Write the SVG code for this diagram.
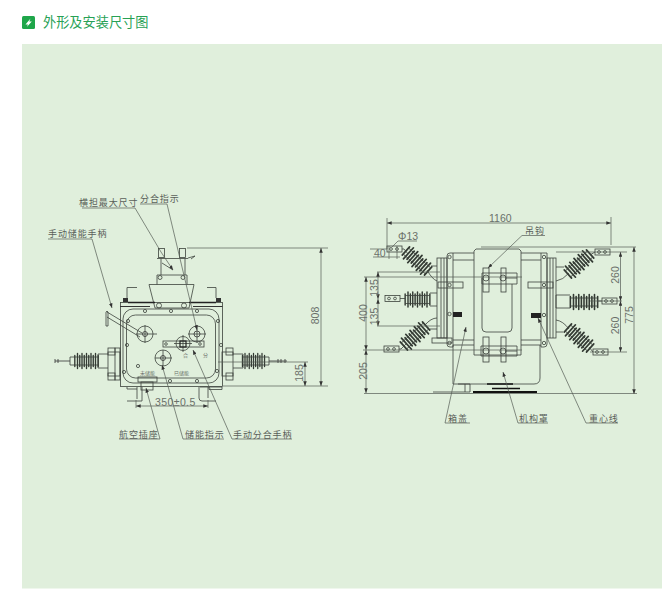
<svg xmlns="http://www.w3.org/2000/svg" width="668" height="590" viewBox="0 0 668 590">
<style>
.l{fill:none;stroke:#3c423c;stroke-width:.8}
.d{fill:none;stroke:#555b55;stroke-width:.7}
.h{fill:none;stroke:#333;stroke-width:.8}
.t{font-family:"Noto Sans CJK SC","Liberation Sans",sans-serif;font-size:9px;fill:#5a5f5a;letter-spacing:.9px}
.s{font-family:"Noto Sans CJK SC","Liberation Sans",sans-serif;font-size:5px;fill:#6a706a}
.n{font-family:"Liberation Sans",sans-serif;font-size:10.5px;fill:#6a706a}
.ins{fill:none;stroke:#333a33;stroke-width:1.500;stroke-linecap:round}
</style>
<defs>
<marker id="ar" viewBox="0 0 8 6" refX="8" refY="3" markerWidth="7" markerHeight="5" orient="auto-start-reverse"><path d="M0 0L8 3L0 6z" fill="#333"/></marker>
<g id="fin">
<path class="ins" d="M-13 -5.500V5.500M-10 -7.500V7.500M-7.500 -5.500V5.500M-5 -7.500V7.500M-2.500 -5.500V5.500M0 -7.500V7.500M2.500 -5.500V5.500M5 -7.500V7.500M7.500 -5.500V5.500M10 -7.500V7.500M13 -5.500V5.500"/>
<path class="l" d="M-13 -4H13M-13 4H13"/>
</g>
<g id="lug">
<rect class="l" x="0" y="-3" width="15" height="6"/>
<circle class="l" cx="4" cy="0" r="1.400"/><circle class="l" cx="10" cy="0" r="1.400"/>
</g>
<circle id="dot" class="l" r="1.600"/>
</defs>
<rect width="668" height="590" fill="#fff"/>
<rect x="22" y="44" width="640" height="544.500" fill="#e0efdc"/>
<g id="title">
<rect x="22" y="16" width="13" height="13" rx="1.500" fill="#1fa64a"/>
<path d="M30.500 18.500L25.500 24.500H28L26.800 27L31.800 21.500H29.300z" fill="#fff"/>
<text x="43" y="27" font-family="'Noto Sans CJK SC',sans-serif" font-size="13.200" fill="#27a155">外形及安装尺寸图</text>
</g>

<g id="front-view">
<rect class="l" x="120.500" y="302.500" width="102" height="84"/>
<path d="M120 306.500H150M193 306.500H222.500" stroke="#333" stroke-width="1"/>
<rect class="l" x="123" y="309" width="96" height="74" rx="10"/>
<rect class="l" x="126.500" y="315" width="89" height="63" rx="9"/>
<path class="l" d="M149 284.500H194L189 308H155ZM157 284.500V275H187V284.500"/>
<path class="l" d="M157 258.500H188M161 258.500V275M185 258.500V275M162 263L173 270"/>
<path class="l" d="M188 258L195 256L191 259"/>
<rect class="l" x="158.500" y="248.500" width="6" height="9"/><rect class="l" x="179.500" y="248.500" width="6" height="9"/>
<circle class="l" cx="160" cy="277.500" r="2"/><circle class="l" cx="183" cy="277.500" r="2"/>
<circle class="l" cx="159" cy="305.500" r="2.500"/><circle class="l" cx="184" cy="305.500" r="2.500"/>
<path class="l" d="M127 298V287.500H137M207 287.500H216V298"/>
<rect x="123" y="298" width="5" height="4" fill="#333"/><rect x="216" y="298" width="5" height="4" fill="#333"/>
<path d="M128 302.500H155M189 302.500H216" stroke="#222" stroke-width="1.400"/>
<g>
<use href="#dot" x="145" y="311"/><use href="#dot" x="171" y="311"/><use href="#dot" x="197" y="311"/>
<use href="#dot" x="128" y="321"/><use href="#dot" x="218" y="321"/><use href="#dot" x="127" y="345"/><use href="#dot" x="221" y="345"/>
<use href="#dot" x="124" y="372"/><use href="#dot" x="217" y="371"/><use href="#dot" x="170" y="381"/><use href="#dot" x="197" y="381"/><use href="#dot" x="138" y="366"/>
</g>
<circle class="l" cx="145" cy="334" r="8"/><path class="l" d="M136 334H157M145 325V343"/><circle class="h" cx="145" cy="334" r="2.500"/>
<circle class="l" cx="197" cy="334" r="8"/><path class="l" d="M188 334H206M197 325V343"/><circle class="h" cx="197" cy="334" r="3"/>
<circle class="l" cx="183" cy="343.500" r="7"/><path class="l" d="M174 343.500H192M183 335V352"/>
<rect class="l" x="163" y="341" width="41" height="6"/>
<rect x="180" y="341" width="6" height="6" fill="none" stroke="#222" stroke-width="1.200"/>
<circle class="l" cx="166" cy="344" r="1.300"/><circle class="l" cx="200" cy="344" r="1.300"/>
<circle class="l" cx="163" cy="358" r="8"/><path class="l" d="M155 358H172M163 350V366"/><circle class="h" cx="163" cy="358" r="2.500"/>
<path class="l" d="M107 312L142 333M107 317L140 337"/>
<path class="l" d="M106 312V326H108V312Q107 310 106 312"/>
<text x="140" y="375" class="s">未储能</text>
<text x="174" y="375" class="s">已储能</text>
<text x="183" y="357" class="s">合</text>
<text x="203" y="357" class="s">分</text>
<rect class="l" x="138" y="377" width="19" height="5"/>
<rect class="l" x="141" y="382" width="12" height="8"/>
<path class="l" d="M127 387V389H137M142 387V401H127M137 387V399M199 387V398Q199 401 202 401H216M200 387H222V389.500H209V387M208 387V398"/>
<!-- left bushing -->
<rect class="l" x="108" y="352" width="12" height="24"/>
<rect class="l" x="108" y="348" width="7" height="7"/><rect class="l" x="108" y="373" width="7" height="7"/>
<rect class="l" x="115" y="348" width="5" height="32"/>
<path class="l" d="M108 354H98V368H108"/>
<use href="#fin" transform="translate(86.500 361) scale(.9 1)"/>
<path class="l" d="M75 357H70V365H75"/>
<path class="h" d="M55 359V363M58 359V363M55 361H70"/>
<!-- right bushing -->
<rect class="l" x="222" y="352" width="11" height="24"/>
<rect class="l" x="226" y="348" width="7" height="7"/><rect class="l" x="226" y="373" width="7" height="7"/>
<path class="l" d="M233 354H243V368H233"/>
<use href="#fin" transform="translate(253.500 361) scale(.85 1)"/>
<path class="l" d="M264 357H269V365H264"/>
<path class="h" d="M269 361H287M278 359V363M281 359V363M285 359V363"/>
</g>

<g id="side-view">
<path class="l" d="M474 251L476 249H519L521 251V355H474Z"/>
<path class="l" d="M482 278V328Q482 332 486 332H508Q512 332 512 328V284"/>
<path class="l" d="M453 253H474M453 260H474M453 340H474M453 345H474M521 253H541M521 260H541M521 340H541M521 345H541"/>
<path class="l" d="M447 256Q447 253 450 253H453V347H450Q447 347 447 344Z"/>
<path class="l" d="M544 253H547V344Q547 347 544 347H541V253Z"/>
<rect class="l" x="437" y="258" width="10" height="80"/><path class="l" d="M441 258V338M444 258V338"/>
<rect class="l" x="547" y="258" width="9" height="80"/><path class="l" d="M550 258V338M553 258V338"/>
<rect class="l" x="438" y="282" width="25" height="6"/>
<rect class="l" x="528" y="282" width="25" height="6"/>
<rect class="l" x="432" y="338" width="20" height="5"/>
<rect class="l" x="483" y="268" width="6" height="24"/><rect class="l" x="501" y="268" width="5" height="24"/>
<path class="l" d="M482 273H517V284H482ZM505 278H517"/>
<circle class="l" cx="486" cy="278" r="3"/><circle class="l" cx="503" cy="278" r="3"/>
<rect class="l" x="483" y="337" width="6" height="25"/><rect class="l" x="501" y="337" width="5" height="25"/>
<path class="l" d="M481 346H517V356H481ZM505 351H517"/>
<circle class="l" cx="486" cy="351" r="3"/><circle class="l" cx="503" cy="351" r="3"/>
<path class="l" d="M453 345V384H534Q540 384 540 378V345"/>
<rect x="453" y="312" width="9" height="5" fill="#222"/><rect x="531" y="313" width="10" height="5" fill="#222"/>
<circle class="l" cx="449.500" cy="257" r="1.700"/><circle class="l" cx="449.500" cy="285" r="1.700"/><circle class="l" cx="449.500" cy="314" r="1.700"/><circle class="l" cx="449.500" cy="343" r="1.700"/>
<circle class="l" cx="544" cy="257" r="1.700"/><circle class="l" cx="544" cy="285" r="1.700"/><circle class="l" cx="544" cy="315" r="1.700"/><circle class="l" cx="544" cy="343" r="1.700"/>
<path d="M473 392H537" stroke="#111" stroke-width="2"/><path d="M487 384H513M492 388.500H520" stroke="#111" stroke-width="1.500"/>
<path class="l" d="M433 392H470M458 384H470V392M465 384V392"/>
<use href="#fin" transform="translate(417 261) rotate(42) scale(1.150 1)"/>
<use href="#lug" transform="translate(387 249)"/>
<path class="l" d="M402 249H404L408 254"/>
<path class="l" d="M427 270Q432 279 437 281M431 266H437"/>
<use href="#fin" transform="translate(417.500 299.500) scale(.95 1)"/>
<use href="#lug" transform="translate(385 298.500)"/>
<path class="l" d="M400 298.500H405M430 293H437M430 306H437"/>
<use href="#fin" transform="translate(415 336) rotate(-42) scale(1.150 1)"/>
<use href="#lug" transform="translate(384 349)"/>
<path class="l" d="M399 349H401L406 344"/>
<path class="l" d="M425 325Q431 318 437 318M430 329H437"/>
<use href="#fin" transform="translate(579 264) rotate(138) scale(1.150 1)"/>
<use href="#lug" transform="translate(595 252)"/>
<path class="l" d="M569 273Q563 280 556 281M564 267H556M590 255L595 252"/>
<use href="#fin" transform="translate(584 302) rotate(180) scale(1.050 1)"/>
<use href="#lug" transform="translate(602 301)"/>
<path class="l" d="M570 295H556V308H570M597 301H602"/>
<use href="#fin" transform="translate(579 338) rotate(42) scale(1.150 1)"/>
<use href="#lug" transform="translate(593 352)"/>
<path class="l" d="M569 329Q563 321 556 320M563 332H556M589 347L593 352"/>
</g>

<g id="connectors">
<!-- front leaders -->
<path class="d" d="M82 208H135L161 252M161 252L173 270" marker-end="url(#ar)"/>
<path class="d" d="M140 204H167L197 330" marker-end="url(#ar)"/>
<path class="d" d="M48 239H92L112 308" marker-end="url(#ar)"/>
<path class="d" d="M119 439H160L146 388" marker-end="url(#ar)"/>
<path class="d" d="M224 439H183L162 365" marker-end="url(#ar)"/>
<path class="d" d="M292 439H232L193 350" marker-end="url(#ar)"/>
<!-- front dims -->
<path class="d" d="M187 248H328M223 386H328M218 362H308"/>
<path class="d" d="M321 248V386" marker-start="url(#ar)" marker-end="url(#ar)"/>
<path class="d" d="M305 362V386" marker-start="url(#ar)" marker-end="url(#ar)"/>
<path class="d" d="M136 406H208" marker-start="url(#ar)" marker-end="url(#ar)"/>
<path class="d" d="M136 400V408M208 400V408"/>
<!-- side dims -->
<path class="d" d="M387 223H611" marker-start="url(#ar)" marker-end="url(#ar)"/>
<path class="d" d="M387 218V249M611 217V245"/>
<path class="d" d="M370 249H387M373 257H400M389 246V259M397 246V259M392 247L398 241H417"/>
<path class="d" d="M481 247H636M556 252H627M590 301H622M590 352H627"/>
<path class="d" d="M620.500 252V301" marker-start="url(#ar)" marker-end="url(#ar)"/>
<path class="d" d="M620.500 301V352" marker-start="url(#ar)" marker-end="url(#ar)"/>
<path class="d" d="M634 247V394" marker-start="url(#ar)" marker-end="url(#ar)"/>
<path class="d" d="M364 393.500H637"/>
<path class="d" d="M364 277H522M377 272H440M377 326H440M363 350H522"/>
<path class="d" d="M378 272V299" marker-start="url(#ar)" marker-end="url(#ar)"/>
<path class="d" d="M378 299V326" marker-start="url(#ar)" marker-end="url(#ar)"/>
<path class="d" d="M366 277V350" marker-start="url(#ar)" marker-end="url(#ar)"/>
<path class="d" d="M366 350V393" marker-start="url(#ar)" marker-end="url(#ar)"/>
<!-- side leaders -->
<path class="d" d="M545 235.500H522L488 268" marker-end="url(#ar)"/>
<path class="d" d="M470 423H445L466 327" marker-end="url(#ar)"/>
<path class="d" d="M548 423H518L503 372" marker-end="url(#ar)"/>
<path class="d" d="M618 423H586L538 318" marker-end="url(#ar)"/>
</g>

<g id="labels">
<text class="t" x="79" y="206">横担最大尺寸</text>
<text class="t" x="140" y="202">分合指示</text>
<text class="t" x="48" y="237">手动储能手柄</text>
<text class="t" x="119" y="437.500">航空插座</text>
<text class="t" x="185" y="437.500">储能指示</text>
<text class="t" x="233" y="437.500">手动分合手柄</text>
<text class="t" x="525" y="234">吊钩</text>
<text class="t" x="448" y="421.500">箱盖</text>
<text class="t" x="519" y="421.500">机构罩</text>
<text class="t" x="589" y="421.500">重心线</text>
<text class="n" x="155" y="405.500" style="letter-spacing:.4px">350±0.5</text>
<text class="n" text-anchor="middle" transform="translate(319 315.500) rotate(-90)">808</text>
<text class="n" text-anchor="middle" transform="translate(303 373) rotate(-90)">185</text>
<text class="n" x="489" y="222">1160</text>
<text class="n" x="398" y="240">Φ13</text>
<text class="n" x="374" y="256.500">40</text>
<text class="n" text-anchor="middle" transform="translate(377.500 288) rotate(-90)">135</text>
<text class="n" text-anchor="middle" transform="translate(377.500 316.500) rotate(-90)">135</text>
<text class="n" text-anchor="middle" transform="translate(366.500 313) rotate(-90)">400</text>
<text class="n" text-anchor="middle" transform="translate(366.500 371) rotate(-90)">205</text>
<text class="n" text-anchor="middle" transform="translate(619 275) rotate(-90)">260</text>
<text class="n" text-anchor="middle" transform="translate(619 325.500) rotate(-90)">260</text>
<text class="n" text-anchor="middle" transform="translate(633 315) rotate(-90)">775</text>
</g>
</svg>
